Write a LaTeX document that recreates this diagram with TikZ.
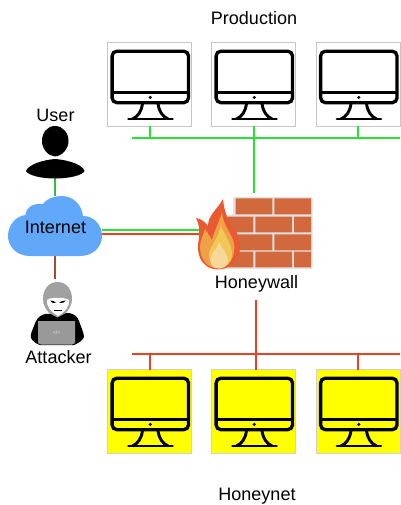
\documentclass[tikz,border=0pt]{standalone}
\usepackage{fontspec}
\setmainfont{Liberation Sans}
\definecolor{gline}{RGB}{40,225,50}
\definecolor{rline}{RGB}{235,65,35}
\definecolor{gshort}{RGB}{50,190,60}
\definecolor{rshort}{RGB}{175,70,50}
\definecolor{cloudc}{RGB}{97,168,250}
\definecolor{brick}{RGB}{210,105,60}
\definecolor{mort}{RGB}{226,226,226}
\definecolor{fa}{RGB}{234,90,50}
\definecolor{fb}{RGB}{240,160,70}
\definecolor{fc}{RGB}{240,200,85}
\definecolor{fd}{RGB}{248,215,155}
\definecolor{yfill}{RGB}{255,255,0}
\tikzset{
  x=0.75pt,y=-0.75pt,
  monbox/.style={draw=black!22,line width=0.75pt,minimum size=63pt,inner sep=0pt,outer sep=0pt,anchor=north west},
  hnbox/.style={monbox,draw=black!18,fill=yfill},
  gwire/.style={draw=gline,line width=1.6pt},
  rwire/.style={draw=rline,line width=1.6pt},
  gshortwire/.style={draw=gshort,line width=1.3pt},
  rshortwire/.style={draw=rshort,line width=1.3pt},
  lbl/.style={font=\fontsize{13.5}{15}\selectfont,inner sep=0pt,text=black},
  monitor/.pic={
    \draw[black,line width=2.5pt,rounded corners=3.6pt] (4.6,8.7) rectangle (81,60.2);
    \draw[black,line width=2.5pt] (4.6,49.8) -- (81,49.8);
    \fill[black] (42.8,54.9) circle (1.7);
    \draw[black,line width=2.2pt,line cap=round] (21,76.5) -- (65,76.5);
    \draw[black,line width=2.2pt] (35,61) .. controls (34,69) and (30.5,74) .. (25,76.5);
    \draw[black,line width=2.2pt] (50.5,61) .. controls (51.5,69) and (55,74) .. (60.5,76.5);
  }
}
\begin{document}
\begin{tikzpicture}
\useasboundingbox (0,0) rectangle (400,505);
\node[minimum width=70.5pt,minimum height=45pt,inner sep=0pt,outer sep=0pt] (cloud) at (55,226) {};
\coordinate (fwg) at (205,229.8);
\coordinate (fwr) at (205,233.8);
\coordinate (person) at (55,178);
\coordinate (hacker) at (55,279);
\draw[gwire] (cloud.east |- fwg) -- (fwg);
\draw[rwire] (cloud.east |- fwr) -- (fwr);
\draw[gshortwire] (person) -- (cloud.north -| person);
\draw[rshortwire] (cloud.south -| hacker) -- (hacker);
% monitors
\node[monbox] (p1) at (107.5,42.5) {};
\node[monbox] (p2) at (211.5,42.5) {};
\node[monbox] (p3) at (316,42.5) {};
\node[hnbox] (h1) at (107.5,369.5) {};
\node[hnbox] (h2) at (211.5,369.5) {};
\node[hnbox] (h3) at (316,369.5) {};
\foreach \px/\py in {107.5/42.5,211.5/42.5,316/42.5,107.5/369.5,211.5/369.5,316/369.5}
  \pic at (\px,\py) {monitor};
% labels
\node[lbl] (prod) at (254,18.5) {Production};
\node[lbl] (hnet) at (257,496) {Honeynet};
\node[lbl] (user) at (55.5,115.5) {User};
\node[lbl] (att) at (58.5,357.5) {Attacker};
\node[lbl] (hw) at (256.5,283.5) {Honeywall};
% buses
\coordinate (gl) at (132,138);
\coordinate (gr) at (400,138);
\coordinate (rl) at (132,354);
\coordinate (rr) at (400,354);
\coordinate (fwtop) at (254,193);
\coordinate (fwbot) at (256,300);
\draw[gwire] (gl) -- (gr);
\draw[gwire] (p1.south -| 150,0) -- (150,138);
\draw[gwire] (p2.south -| 254,0) -- (fwtop);
\draw[gwire] (p3.south -| 358,0) -- (358,138);
\draw[rwire] (rl) -- (rr);
\draw[rwire] (h1.north -| 150,0) -- (150,354);
\draw[rwire] (h2.north -| 256,0) -- (fwbot);
\draw[rwire] (h3.north -| 358,0) -- (358,354);
% cloud
\fill[cloudc] (30,256) .. controls (16,256) and (8,246) .. (8,236)
  .. controls (8,225) and (16,216) .. (25.5,215)
  .. controls (26,207) and (33,203) .. (43,204)
  .. controls (47,198) and (55,196) .. (62,196)
  .. controls (73,196) and (82,205) .. (83,216)
  .. controls (94,216) and (102,225) .. (102,236)
  .. controls (102,247) and (93,256) .. (80,256) -- cycle;
\node[lbl] (inet) at (55.5,227.5) {Internet};
% user icon
\fill[black] (55,126) .. controls (47,126) and (42,133) .. (42,141)
  .. controls (42,149) and (48,156) .. (55,156.5)
  .. controls (62,156) and (68.5,149) .. (68.5,141)
  .. controls (68.5,133) and (63,126) .. (55,126) -- cycle;
\fill[black] (26,171) .. controls (28,165) and (42,160) .. (55,159)
  .. controls (69,160) and (83,165) .. (84.5,171)
  .. controls (83,175) and (70,178.5) .. (55,178.5)
  .. controls (40,178.5) and (28,175) .. (26,171) -- cycle;
% attacker icon
\fill[black] (45,314) .. controls (38,316) and (36,320) .. (34,326)
  .. controls (32,331) and (30,335) .. (31,338)
  .. controls (33,342) and (37,344) .. (40,345) -- (74,345)
  .. controls (79,343) and (83,340) .. (84,337)
  .. controls (84,333) and (81,327) .. (79,321)
  .. controls (77,316) and (74,314) .. (69,313) -- cycle;
\fill[black!37] (57.5,282) .. controls (48,282) and (43,290) .. (43,299)
  .. controls (43,305) and (46,309) .. (49,313)
  -- (57.5,317.5) -- (66,313)
  .. controls (69,309) and (72,305) .. (72,299)
  .. controls (72,290) and (67,282) .. (57.5,282) -- cycle;
\fill[white] (47,300) .. controls (50,297) and (65,297) .. (69,300)
  .. controls (70,306) and (65,312) .. (58,316)
  .. controls (51,312) and (46,306) .. (47,300) -- cycle;
\fill[black] (50,300.5) .. controls (53,300.5) and (55,301.5) .. (56,303) .. controls (53,303.5) and (51,302.5) .. (50,300.5) -- cycle;
\fill[black] (66,300.5) .. controls (63,300.5) and (60,301.5) .. (59,303) .. controls (62,303.5) and (65,302.5) .. (66,300.5) -- cycle;
\draw[black,line width=0.5pt] (54,310) -- (62,310);
\fill[black!40] (38,321) -- (75,321) -- (75,343) -- (72,344.5) -- (41,344.5) -- (38,343) -- cycle;
\node[font=\fontsize{4}{4}\selectfont,text=black!12,inner sep=0pt] (code) at (56.5,333) {</>};
% firewall
\fill[mort,rounded corners=1pt] (233,197) -- (312.7,197) -- (312.7,269) -- (218,269) -- (218,215) -- (233,215) -- cycle;
\fill[brick]
  (235.7,198.5) rectangle (272.3,214.3) (274.3,198.5) rectangle (311,214.3)
  (218,216.7) rectangle (253.3,232.3) (255.3,216.7) rectangle (292,232.3) (294,216.7) rectangle (311,232.3)
  (218,234.3) rectangle (272.3,250.3) (274.3,234.3) rectangle (311,250.3)
  (218,251.7) rectangle (253.3,267.3) (255.3,251.7) rectangle (292,267.3) (294,251.7) rectangle (311,267.3);
% flame
\fill[fa] (223,199) .. controls (224,212) and (229,222) .. (232,227)
  .. controls (233,229) and (234,230) .. (235,229)
  .. controls (237,233) and (240,239) .. (240,247)
  .. controls (240,260) and (231,269) .. (218,269.5)
  .. controls (205,269.5) and (197,259) .. (198,245)
  .. controls (199,236) and (201,228) .. (196,218)
  .. controls (202,219) and (205,222) .. (208,226)
  .. controls (208,215) and (217,210) .. (223,199) -- cycle;
\fill[fb] (222,212) .. controls (223,226) and (231,232) .. (234,243)
  .. controls (236,258) and (228,268) .. (218,268.5)
  .. controls (208,268) and (200,260) .. (200,247)
  .. controls (200,240) and (204,234) .. (205,229)
  .. controls (208,233) and (210,237) .. (212,240)
  .. controls (214,231) and (219,223) .. (222,212) -- cycle;
\fill[fc] (221,224) .. controls (222,232) and (232,243) .. (232,254)
  .. controls (232,262) and (226,268) .. (220,268.5)
  .. controls (213,268) and (209,262) .. (209,254)
  .. controls (209,248) and (219,238) .. (221,224) -- cycle;
\fill[fd] (219,242) .. controls (221,248) and (228,254) .. (228,260)
  .. controls (228,265) and (224,268.5) .. (219,268.5)
  .. controls (214,268.5) and (210,265) .. (210,260)
  .. controls (210,254) and (217,250) .. (219,242) -- cycle;
\end{tikzpicture}
\end{document}
